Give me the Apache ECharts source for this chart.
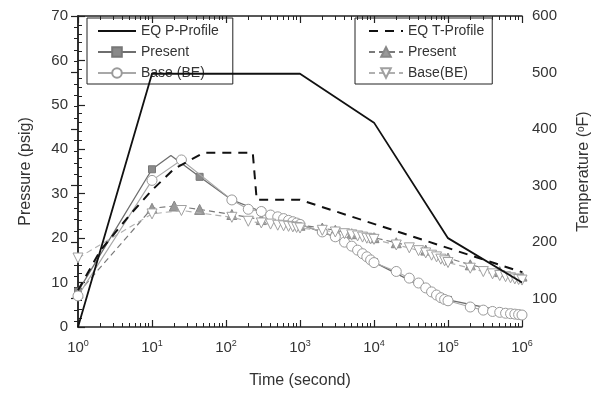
<!DOCTYPE html>
<html>
<head>
<meta charset="utf-8">
<script src="https://cdn.jsdelivr.net/npm/echarts@6/dist/echarts.min.js"></script>
<style>html,body{margin:0;padding:0;background:#fff}#main{width:606px;height:401px}</style>
</head>
<body>
<div id="main"></div>
<script>
// EQ profiles
var eqPTime = [1, 10, 1000, 10000, 100000, 1000000];
var eqPressure = [0, 57, 57, 46, 20, 10];
var eqTTime = [1, 2, 5, 10, 20, 50, 230, 260, 1000, 1000000];
var eqTemp = [115, 185, 248, 292, 330, 358, 358, 275, 275, 147];

// Present
var presentTime = [1, 10, 18, 44, 120, 300, 1000, 3000, 10000, 100000, 1000000];
var presentPressure = [8, 35.5, 38.6, 33.8, 28.6, 26, 23.1, 20.3, 14.6, 6.1, 2.7];
var presentTTime = [1, 10, 20, 44, 120, 300, 1000, 2000, 3000, 5000, 10000, 20000, 50000, 100000, 200000, 500000, 1000000];
var presentTemp = [110, 260, 264, 258, 249, 240, 230, 225, 221, 215, 208, 199, 186, 172, 160, 148, 140];

// Base (BE)
var baseTime = [1, 10, 25, 120, 200, 300, 400, 500, 600, 700, 800, 900,
  1000, 2000, 3000, 4000, 5000, 6000, 7000, 8000, 9000,
  10000, 20000, 30000, 40000, 50000, 60000, 70000, 80000, 90000,
  100000, 200000, 300000, 400000, 500000, 600000, 700000, 800000, 900000, 1000000];
var basePressure = [7, 33, 37.6, 28.6, 26.5, 26.0, 25.2, 24.8, 24.4, 24.0, 23.7, 23.4,
  23.1, 21.4, 20.3, 19.1, 18.2, 17.3, 16.5, 15.8, 15.1,
  14.5, 12.5, 11.0, 9.9, 8.8, 7.9, 7.2, 6.6, 6.2,
  5.9, 4.5, 3.8, 3.5, 3.3, 3.1, 3.0, 2.9, 2.8, 2.7];
var baseTemp = [172, 250, 256, 244, 237, 234, 232, 230, 229, 228, 227, 226,
  225, 221, 218, 215, 213, 211, 209, 207, 206,
  205, 195, 190, 185, 181, 177, 174, 170, 167,
  164, 154, 148, 144, 141, 139, 137, 135, 134, 133];

var tempLabels = [100, 200, 300, 400, 500, 600];

function pairs(t, v) {
  return t.map(function (x, i) { return [x, v[i]]; });
}

// log minor tick positions (2..9 per decade), mapped on a 0..6 helper axis
var minorX = [];
for (var d = 0; d < 6; d++) {
  for (var k = 2; k <= 9; k++) minorX.push(d + Math.log10(k));
}
var minorT = [];
for (var v = 60; v < 600; v += 20) if (v % 100 !== 0) minorT.push(v);

var font = 'Liberation Sans, Arial, sans-serif';
var ink = '#222';
var noDot = { color: 'rgba(0,0,0,0)', borderWidth: 0, opacity: 0 };

var myChart = echarts.init(document.getElementById('main'));

var presentP = pairs(presentTime, presentPressure).map(function (p, i) {
  return i === 2 ? { value: p, symbol: 'none' } : p;
});

option = {
  animation: false,
  backgroundColor: '#fff',
  grid: { left: 78, right: 84, top: 16, bottom: 74 },
  legend: [{
    data: [{ name: 'EQ P-Profile', itemStyle: noDot }, 'Present', 'Base (BE)'],
    orient: 'vertical', left: 87, top: 18,
    itemWidth: 38, itemHeight: 12, itemGap: 7,
    padding: [6, 14, 4, 10],
    borderColor: ink, borderWidth: 1,
    selectedMode: false,
    textStyle: { fontFamily: font, fontSize: 14, color: '#333' }
  }, {
    data: [{ name: 'EQ T-Profile', itemStyle: noDot }, 'Present ', 'Base(BE)'],
    orient: 'vertical', left: 355, top: 18,
    itemWidth: 34, itemHeight: 12, itemGap: 7,
    padding: [6, 8, 4, 13],
    borderColor: ink, borderWidth: 1,
    selectedMode: false,
    textStyle: { fontFamily: font, fontSize: 14, color: '#333' }
  }],
  xAxis: [{
    type: 'log', logBase: 10, min: 1, max: 1000000, splitNumber: 6,
    position: 'bottom',
    name: 'Time (second)', nameLocation: 'middle', nameGap: 46,
    nameTextStyle: { fontFamily: font, fontSize: 16, color: '#333' },
    axisLine: { lineStyle: { color: ink, width: 1.5 } },
    axisTick: { inside: true, length: 7, lineStyle: { color: ink, width: 1.2 } },
    splitLine: { show: false },
    axisLabel: {
      margin: 12, color: '#333', fontFamily: font,
      formatter: function (val) { return '{b|10}{s|' + Math.round(Math.log10(val)) + '}'; },
      rich: {
        b: { fontSize: 15, fontFamily: font, color: '#333', lineHeight: 18 },
        s: { fontSize: 9, fontFamily: font, color: '#333', verticalAlign: 'top', lineHeight: 10 }
      }
    }
  }, {
    type: 'value', min: 0, max: 6, position: 'bottom',
    axisLine: { show: false },
    axisTick: { inside: true, length: 4, customValues: minorX, lineStyle: { color: ink, width: 1 } },
    axisLabel: { show: false }, splitLine: { show: false }
  }, {
    type: 'value', min: 0, max: 6, interval: 1, position: 'top',
    axisLine: { lineStyle: { color: ink, width: 1.5 } },
    axisTick: { inside: true, length: 7, lineStyle: { color: ink, width: 1.2 } },
    axisLabel: { show: false }, splitLine: { show: false }
  }, {
    type: 'value', min: 0, max: 6, position: 'top',
    axisLine: { show: false },
    axisTick: { inside: true, length: 4, customValues: minorX, lineStyle: { color: ink, width: 1 } },
    axisLabel: { show: false }, splitLine: { show: false }
  }],
  yAxis: [{
    type: 'value', min: 0, max: 70, interval: 10, position: 'left',
    name: 'Pressure (psig)', nameLocation: 'middle', nameGap: 44, nameRotate: 90,
    nameTextStyle: { fontFamily: font, fontSize: 16, color: '#333' },
    axisLine: { show: true, lineStyle: { color: ink, width: 1.5 } },
    axisTick: { show: true, inside: true, length: 7, lineStyle: { color: ink, width: 1.2 } },
    minorTick: { show: true, splitNumber: 5, length: 4, lineStyle: { color: ink, width: 1 } },
    axisLabel: { margin: 10, fontSize: 15, fontFamily: font, color: '#333' },
    splitLine: { show: false }
  }, {
    type: 'value', min: 50, max: 600, position: 'right',
    name: 'Temperature ({s|o}F)', nameLocation: 'middle', nameGap: 54, nameRotate: 90,
    nameTextStyle: {
      fontFamily: font, fontSize: 16, color: '#333',
      rich: { s: { fontSize: 10, fontFamily: font, color: '#333', verticalAlign: 'top', lineHeight: 10 } }
    },
    axisLine: { show: true, lineStyle: { color: ink, width: 1.5 } },
    axisTick: { show: true, inside: true, length: 7, customValues: tempLabels, lineStyle: { color: ink, width: 1.2 } },
    axisLabel: { margin: 10, fontSize: 15, fontFamily: font, color: '#333', customValues: tempLabels },
    splitLine: { show: false }
  }, {
    type: 'value', min: 50, max: 600, position: 'right',
    axisLine: { show: false },
    axisTick: { show: true, inside: true, length: 4, customValues: minorT, lineStyle: { color: ink, width: 1 } },
    axisLabel: { show: false }, splitLine: { show: false }
  }],
  series: [{
    name: 'EQ P-Profile', type: 'line', xAxisIndex: 0, yAxisIndex: 0,
    data: pairs(eqPTime, eqPressure), symbol: 'none',
    lineStyle: { color: '#111', width: 1.8 }, itemStyle: { color: '#111' }, z: 5
  }, {
    name: 'EQ T-Profile', type: 'line', xAxisIndex: 0, yAxisIndex: 1,
    data: pairs(eqTTime, eqTemp), symbol: 'none',
    lineStyle: { color: '#111', width: 2, type: [9, 7] }, itemStyle: { color: '#111' }, z: 5
  }, {
    name: 'Present', type: 'line', xAxisIndex: 0, yAxisIndex: 0,
    data: presentP, symbol: 'rect', symbolSize: 7,
    lineStyle: { color: '#6e6e6e', width: 1.3 },
    itemStyle: { color: '#8a8a8a', borderColor: '#777', borderWidth: 1 }, z: 3
  }, {
    name: 'Base (BE)', type: 'line', xAxisIndex: 0, yAxisIndex: 0,
    data: pairs(baseTime, basePressure), symbol: 'circle', symbolSize: 10,
    lineStyle: { color: '#a8a8a8', width: 1.1 },
    itemStyle: { color: '#fff', borderColor: '#9a9a9a', borderWidth: 1 }, z: 4
  }, {
    name: 'Present ', type: 'line', xAxisIndex: 0, yAxisIndex: 1,
    data: pairs(presentTTime, presentTemp), symbol: 'triangle', symbolSize: 10,
    lineStyle: { color: '#7a7a7a', width: 1.2, type: [6, 4] },
    itemStyle: { color: '#9a9a9a', borderColor: '#888', borderWidth: 1 }, z: 3
  }, {
    name: 'Base(BE)', type: 'line', xAxisIndex: 0, yAxisIndex: 1,
    data: pairs(baseTime, baseTemp), symbol: 'triangle', symbolRotate: 180, symbolSize: 10,
    lineStyle: { color: '#b0b0b0', width: 1.1, type: [6, 4] },
    itemStyle: { color: '#fff', borderColor: '#a0a0a0', borderWidth: 1 }, z: 4
  }]
};

myChart.setOption(option);
</script>
</body>
</html>
